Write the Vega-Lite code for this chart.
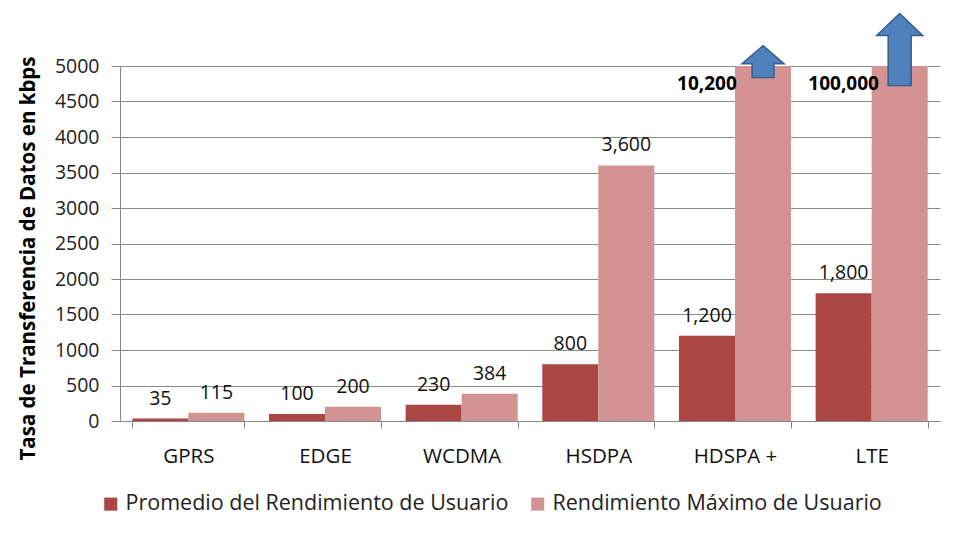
{
  "$schema": "https://vega.github.io/schema/vega-lite/v6.json",
  "width": 820,
  "height": 355,
  "autosize": "none",
  "padding": {"left": 120, "top": 66, "right": 15, "bottom": 125},
  "background": "white",
  "config": {
    "view": {"stroke": null},
    "font": "Open Sans"
  },
  "data": {
    "values": [
      {"tech": "GPRS", "serie": "Promedio del Rendimiento de Usuario", "value": 35, "label": "35"},
      {"tech": "GPRS", "serie": "Rendimiento Máximo de Usuario", "value": 115, "label": "115"},
      {"tech": "EDGE", "serie": "Promedio del Rendimiento de Usuario", "value": 100, "label": "100"},
      {"tech": "EDGE", "serie": "Rendimiento Máximo de Usuario", "value": 200, "label": "200"},
      {"tech": "WCDMA", "serie": "Promedio del Rendimiento de Usuario", "value": 230, "label": "230"},
      {"tech": "WCDMA", "serie": "Rendimiento Máximo de Usuario", "value": 384, "label": "384"},
      {"tech": "HSDPA", "serie": "Promedio del Rendimiento de Usuario", "value": 800, "label": "800"},
      {"tech": "HSDPA", "serie": "Rendimiento Máximo de Usuario", "value": 3600, "label": "3,600"},
      {"tech": "HDSPA +", "serie": "Promedio del Rendimiento de Usuario", "value": 1200, "label": "1,200"},
      {"tech": "HDSPA +", "serie": "Rendimiento Máximo de Usuario", "value": 10200, "label": "10,200"},
      {"tech": "LTE", "serie": "Promedio del Rendimiento de Usuario", "value": 1800, "label": "1,800"},
      {"tech": "LTE", "serie": "Rendimiento Máximo de Usuario", "value": 100000, "label": "100,000"}
    ]
  },
  "encoding": {
    "x": {
      "field": "tech", "type": "nominal", "sort": null,
      "scale": {"paddingInner": 0.18, "paddingOuter": 0.09},
      "axis": {"title": null, "labelAngle": 0, "labelFontSize": 20.5, "labelColor": "#111111", "labelPadding": 18, "tickBand": "extent", "tickSize": 7, "tickColor": "#868686", "domainColor": "#868686", "grid": false}
    },
    "xOffset": {"field": "serie", "type": "nominal", "sort": null},
    "y": {
      "field": "value", "type": "quantitative",
      "scale": {"domain": [0, 5000], "nice": false, "zero": true, "clamp": true},
      "axis": {
        "values": [0, 500, 1000, 1500, 2000, 2500, 3000, 3500, 4000, 4500, 5000],
        "labelOverlap": false,
        "format": "d", "title": "Tasa de Transferencia de Datos en kbps",
        "titleFontSize": 20.5, "titleFontWeight": "bold", "titleColor": "black",
        "titleX": -82, "titleY": 192,
        "labelFontSize": 19.5, "labelColor": "#222222", "labelPadding": 12,
        "tickSize": 9, "tickColor": "#868686", "domainColor": "#868686",
        "gridColor": "#8a8a8a", "gridWidth": 1
      }
    }
  },
  "layer": [
    {
      "mark": {"type": "bar"},
      "encoding": {
        "color": {
          "field": "serie", "type": "nominal",
          "scale": {"domain": ["Promedio del Rendimiento de Usuario", "Rendimiento Máximo de Usuario"], "range": ["#AA4643", "#D39392"]},
          "legend": {"orient": "none", "legendX": -20, "legendY": 427, "direction": "horizontal", "title": null, "symbolType": "square", "symbolSize": 170, "symbolStrokeWidth": 0, "labelFontSize": 21.5, "labelColor": "#222222", "columnPadding": 18, "labelOffset": 4, "labelLimit": 0}
        }
      }
    },
    {
      "transform": [{"filter": "datum.value <= 5000"}],
      "mark": {"type": "text", "fontSize": 19.5, "baseline": "bottom", "dy": -10, "color": "#111111"},
      "encoding": {
        "text": {"field": "label"}
      }
    },
    {
      "transform": [{"filter": "datum.value > 5000"}],
      "mark": {"type": "text", "fontSize": 19, "fontWeight": "bold", "baseline": "top", "dy": 9, "color": "black"},
      "encoding": {
        "xOffset": {"datum": "Promedio del Rendimiento de Usuario"},
        "text": {"field": "label"}
      }
    },
    {
      "transform": [{"filter": "datum.tech === 'HDSPA +' && datum.value > 5000"}],
      "mark": {"type": "point", "filled": true, "shape": "M0,-0.97L1,-0.11L0.52,-0.11L0.52,0.55L-0.52,0.55L-0.52,-0.11L-1,-0.11Z", "size": 1764, "fill": "#4F81BD", "stroke": "#385D8A", "strokeWidth": 1.5, "opacity": 1}
    },
    {
      "transform": [{"filter": "datum.tech === 'LTE' && datum.value > 5000"}],
      "mark": {"type": "point", "filled": true, "shape": "M0,-2.285L1,-1.329L0.5,-1.329L0.5,0.845L-0.5,0.845L-0.5,-1.329L-1,-1.329Z", "size": 2116, "fill": "#4F81BD", "stroke": "#385D8A", "strokeWidth": 1.5, "opacity": 1}
    }
  ]
}
